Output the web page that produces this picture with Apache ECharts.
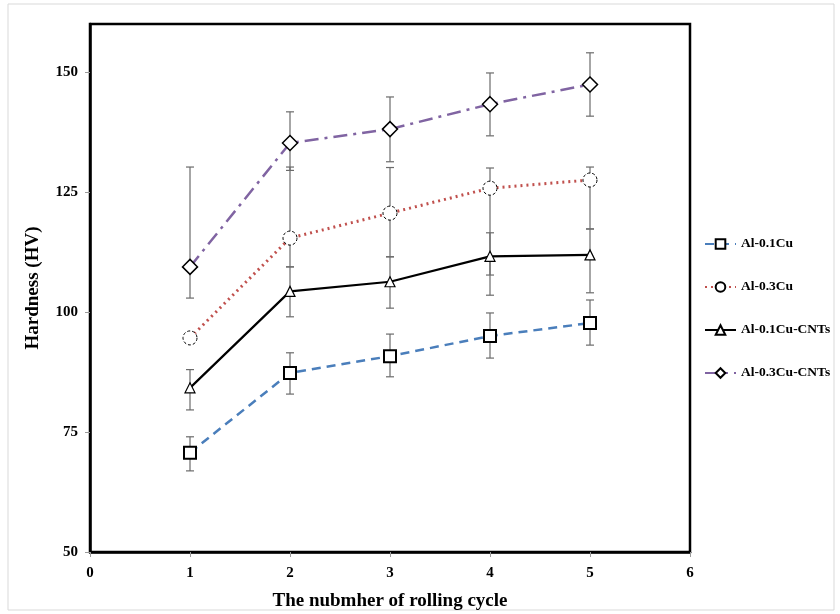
<!DOCTYPE html>
<html>
<head>
<meta charset="utf-8">
<script src="https://cdn.jsdelivr.net/npm/echarts@6/dist/echarts.min.js"></script>
<style>
  html, body { margin: 0; padding: 0; background: #fff; }
  #main { width: 840px; height: 614px; }
</style>
</head>
<body>
<div id="main"></div>
<script>
// 轧制道次 - 硬度
var cycles = [1, 2, 3, 4, 5];
var names = ['Al-0.1Cu', 'Al-0.3Cu', 'Al-0.1Cu-CNTs', 'Al-0.3Cu-CNTs'];

var hv01 = [70.7, 87.3, 90.8, 95.0, 97.7];
var hv03 = [94.6, 115.4, 120.6, 125.8, 127.5];
var hvC1 = [84.2, 104.3, 106.3, 111.6, 111.9];
var hvC3 = [109.4, 135.2, 138.1, 143.3, 147.4];

// error bar ends (low / high), null = no bar
var lo01 = [66.9, 82.9, 86.5, 90.4, 93.1];
var hi01 = [74.0, 91.5, 95.4, 99.8, 102.5];
var lo03 = [null, 109.4, 111.5, 107.7, 117.3];
var hi03 = [null, 130.2, 130.1, 130.0, 130.2];
var loC1 = [79.6, 99.0, 100.8, 103.5, 104.0];
var hiC1 = [88.0, 109.4, 111.5, 116.5, 117.3];
var loC3 = [102.9, 129.5, 131.3, 136.7, 140.8];
var hiC3 = [130.2, 141.7, 144.8, 149.8, 154.0];

var yTicks = [50, 75, 100, 125, 150];

var myChart = echarts.init(document.getElementById('main'));
var font = "'Liberation Serif', 'Times New Roman', serif";

function pts(vals) {
    var d = [];
    for (var i = 0; i < cycles.length; i++) d.push([cycles[i], vals[i]]);
    return d;
}
function errData(lo, hi) {
    var d = [];
    for (var i = 0; i < cycles.length; i++) {
        if (lo[i] == null) continue;
        d.push([cycles[i], lo[i], hi[i]]);
    }
    return d;
}
function errSeries(lo, hi) {
    return {
        type: 'custom',
        z: 1,
        silent: true,
        data: errData(lo, hi),
        renderItem: function (params, api) {
            var a = api.coord([api.value(0), api.value(1)]);
            var b = api.coord([api.value(0), api.value(2)]);
            var w = 4;
            var st = { stroke: '#6b6b6b', lineWidth: 1.2 };
            return {
                type: 'group',
                children: [
                    { type: 'line', shape: { x1: a[0], y1: a[1], x2: b[0], y2: b[1] }, style: st },
                    { type: 'line', shape: { x1: a[0] - w, y1: a[1], x2: a[0] + w, y2: a[1] }, style: st },
                    { type: 'line', shape: { x1: b[0] - w, y1: b[1], x2: b[0] + w, y2: b[1] }, style: st }
                ]
            };
        }
    };
}

var option = {
    animation: false,
    backgroundColor: '#fff',
    grid: {
        left: 90, right: 150, top: 24, bottom: 62,
        outerBoundsMode: 'none',
        show: true, borderColor: '#000', borderWidth: 2.5
    },
    graphic: [{
        type: 'rect',
        shape: { x: 8, y: 4, width: 826, height: 606 },
        style: { fill: 'none', stroke: '#d9d9d9', lineWidth: 1 },
        silent: true
    }],
    legend: {
        data: names,
        orient: 'vertical',
        left: 699,
        top: 232,
        itemWidth: 31,
        itemHeight: 12,
        itemGap: 29,
        textStyle: { fontFamily: font, fontWeight: 'bold', fontSize: 13.5, color: '#000' }
    },
    xAxis: {
        type: 'value',
        min: 0, max: 6, interval: 1,
        name: 'The nubmher of rolling cycle',
        nameLocation: 'middle',
        nameGap: 40,
        nameTextStyle: { fontFamily: font, fontWeight: 'bold', fontSize: 19, color: '#000' },
        axisLine: { lineStyle: { color: '#000', width: 2.5 } },
        axisTick: { show: true, inside: false, length: 5, lineStyle: { color: '#999' } },
        axisLabel: { fontFamily: font, fontWeight: 'bold', fontSize: 15, color: '#000', margin: 14 },
        splitLine: { show: false }
    },
    yAxis: {
        type: 'value',
        min: 50, max: 160, interval: 25,
        name: 'Hardness (HV)',
        nameLocation: 'middle',
        nameGap: 47,
        nameTextStyle: { fontFamily: font, fontWeight: 'bold', fontSize: 19, color: '#000' },
        axisLine: { lineStyle: { color: '#000', width: 2.5 } },
        axisTick: { show: true, length: 5, lineStyle: { color: '#999' }, customValues: yTicks },
        axisLabel: { fontFamily: font, fontWeight: 'bold', fontSize: 15, color: '#000', margin: 12, customValues: yTicks },
        splitLine: { show: false }
    },
    series: [
        errSeries(lo01, hi01),
        errSeries(lo03, hi03),
        errSeries(loC1, hiC1),
        errSeries(loC3, hiC3),
        {
            name: names[0], type: 'line', z: 3, data: pts(hv01),
            symbol: 'rect', symbolSize: 12,
            lineStyle: { color: '#4a7ebb', width: 2.5, type: [9, 6] },
            itemStyle: { color: '#fff', borderColor: '#000', borderWidth: 2 }
        },
        {
            name: names[1], type: 'line', z: 3, data: pts(hv03),
            symbol: 'circle', symbolSize: 14,
            lineStyle: { color: '#c0504d', width: 3, type: [2, 4] },
            itemStyle: { color: '#fff', borderColor: '#000', borderWidth: 1, borderType: [3, 2] }
        },
        {
            name: names[2], type: 'line', z: 3, data: pts(hvC1),
            symbol: 'triangle', symbolSize: 10,
            lineStyle: { color: '#000', width: 2.2 },
            itemStyle: { color: '#fff', borderColor: '#000', borderWidth: 1.2 }
        },
        {
            name: names[3], type: 'line', z: 3, data: pts(hvC3),
            symbol: 'diamond', symbolSize: 15,
            lineStyle: { color: '#8064a2', width: 2.5, type: [14, 6, 3, 6] },
            itemStyle: { color: '#fff', borderColor: '#000', borderWidth: 1.5 }
        }
    ]
};

myChart.setOption(option);
</script>
</body>
</html>
